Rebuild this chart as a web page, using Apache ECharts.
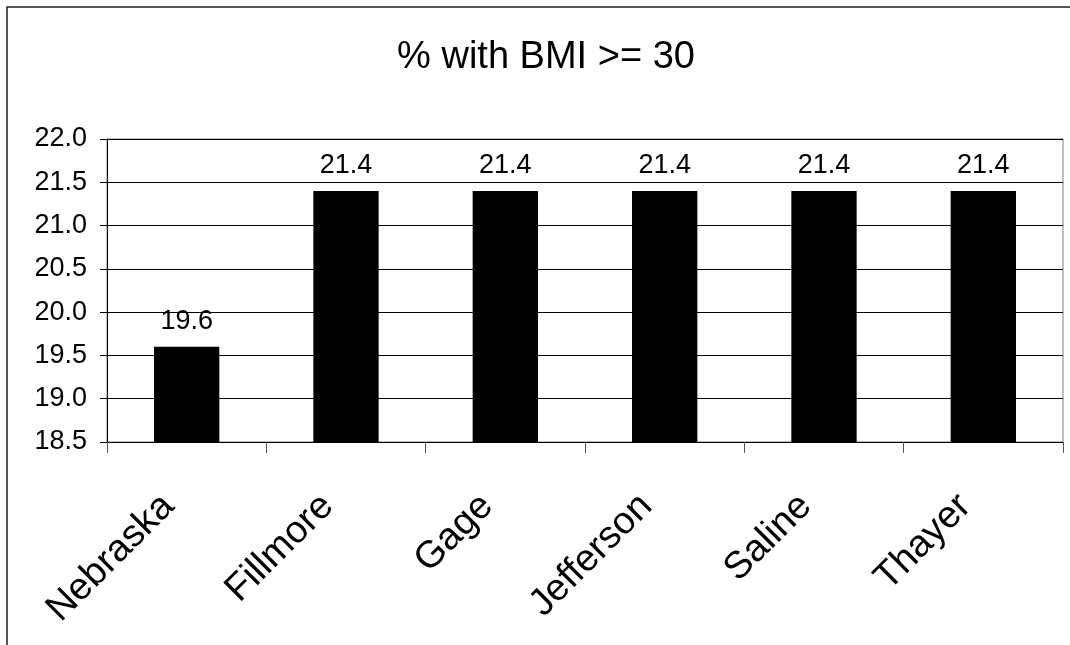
<!DOCTYPE html>
<html>
<head>
<meta charset="utf-8">
<script src="https://cdn.jsdelivr.net/npm/echarts@6/dist/echarts.min.js"></script>
<style>
html,body{margin:0;padding:0;background:#fff;}
#chart{width:1070px;height:645px;}
</style>
</head>
<body>
<div id="chart"></div>
<script>
const titleText = '% with BMI >= 30';
const categories = ['Nebraska', 'Fillmore', 'Gage', 'Jefferson', 'Saline', 'Thayer'];
const values = [19.6, 21.4, 21.4, 21.4, 21.4, 21.4];
const yMin = 18.5, yMax = 22.0, yStep = 0.5;

const FONT = '"Liberation Sans", Arial, sans-serif';
const chart = echarts.init(document.getElementById('chart'), null, {renderer: 'canvas'});
chart.setOption({
  animation: false,
  backgroundColor: '#fff',
  title: {
    text: titleText,
    left: 541,
    top: 34,
    textAlign: 'center',
    textStyle: {fontFamily: FONT, fontSize: 38, fontWeight: 'normal', color: '#000'}
  },
  graphic: [{
    type: 'rect',
    shape: {x: 7, y: 7, width: 1200, height: 800},
    style: {fill: 'none', stroke: '#222', lineWidth: 1.5},
    silent: true
  }],
  grid: {
    left: 107, right: 7, top: 139, bottom: 203,
    show: true, borderColor: '#808080', borderWidth: 1, backgroundColor: 'transparent'
  },
  xAxis: {
    type: 'category',
    data: categories,
    axisLine: {lineStyle: {color: '#000', width: 1}},
    axisTick: {show: true, length: 11, alignWithLabel: false, lineStyle: {color: '#555'}},
    axisLabel: {
      rotate: 45,
      margin: 40,
      interval: 0,
      fontFamily: FONT,
      fontSize: 38,
      color: '#000',
      padding: [0, 26, 0, 0]
    }
  },
  yAxis: {
    type: 'value',
    min: yMin, max: yMax, interval: yStep,
    axisLine: {show: true, lineStyle: {color: '#000', width: 1}},
    axisTick: {show: true, length: 7, lineStyle: {color: '#000'}},
    splitLine: {show: true, lineStyle: {color: '#000', width: 1}},
    axisLabel: {
      margin: 20,
      fontFamily: FONT,
      fontSize: 27,
      color: '#000',
      formatter: v => v.toFixed(1)
    }
  },
  series: [{
    type: 'bar',
    data: values,
    barWidth: '41%',
    itemStyle: {color: '#000'},
    label: {
      show: true,
      position: 'top',
      distance: 12,
      fontFamily: FONT,
      fontSize: 27,
      color: '#000',
      formatter: p => p.value.toFixed(1)
    }
  }]
});
</script>
</body>
</html>
